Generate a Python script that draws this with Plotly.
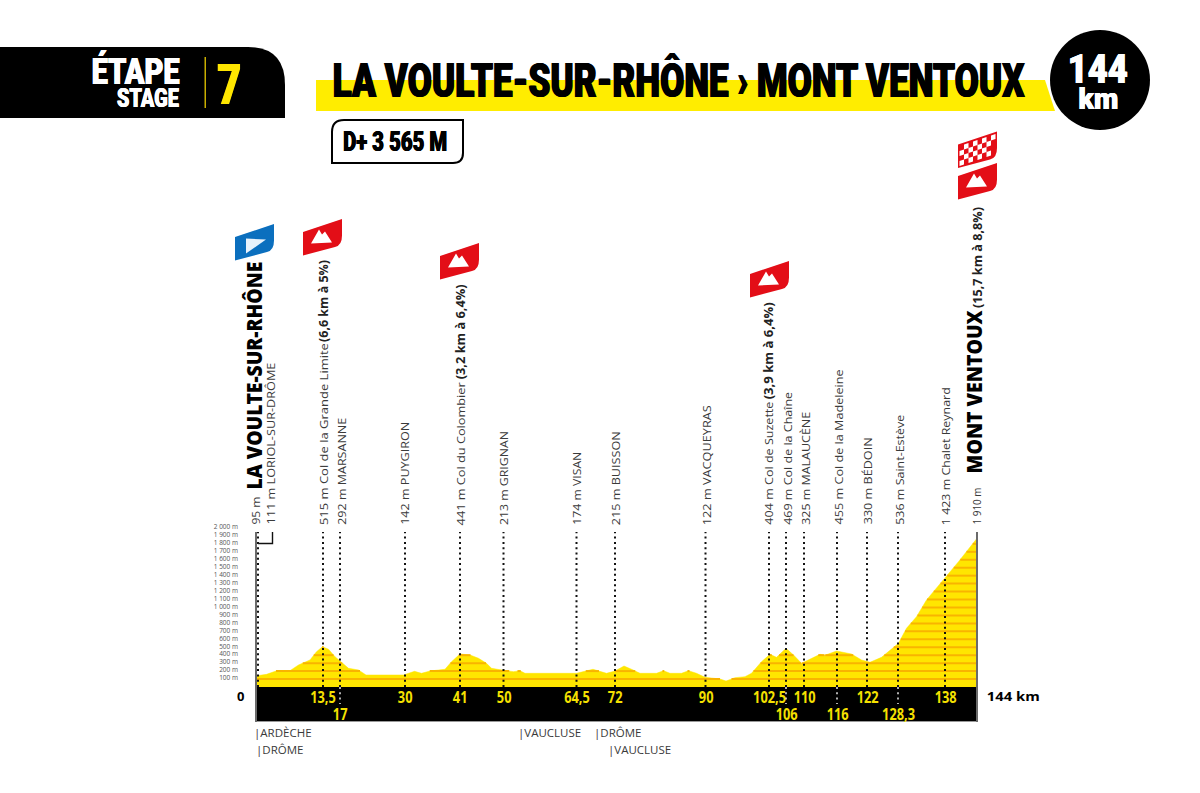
import json
import numpy as np
import plotly.graph_objects as go

# ---------- data ----------
profile_km = [0, 1.9, 3.8, 6.5, 8.3, 10.6, 11.9, 13.1, 14.3, 15.6, 16.6, 18.3, 20.3, 21.8, 29.3, 31.5, 32.9, 34.6,
              37.6, 38.9, 40.6, 42.6, 44.3, 45.9, 46.9, 48.6, 49.3, 51.3, 52.6, 53.6, 63.9, 67.2, 69.9, 71.6, 73.4,
              74.9, 76.6, 79.9, 81.3, 82.6, 84.9, 86.3, 87.9, 89.6, 92.6, 93.8, 95.6, 97.6, 98.9, 100.9, 102.6,
              103.9, 105.8, 107.3, 108.9, 112.6, 113.6, 115.9, 118.9, 120.9, 122.6, 124.9, 128.3, 129.9, 131.9,
              133.9, 137.6, 140.3, 144]
profile_m = [142, 159, 201, 201, 277, 340, 444, 507, 475, 381, 327, 235, 214, 151, 151, 197, 172, 201,
             223, 318, 415, 403, 361, 298, 235, 214, 210, 193, 205, 172, 172, 223, 172, 201, 264,
             223, 172, 172, 205, 172, 172, 205, 172, 122, 101, 75, 117, 130, 172, 318, 411,
             373, 486, 403, 298, 411, 399, 453, 415, 340, 311, 373, 550, 738, 884,
             1094, 1367, 1576, 1870]

elev_ticks = list(range(100, 2001, 100))
elev_tick_text = [f"{v} m" if v < 1000 else f"{v//1000} {v%1000:03d} m" for v in elev_ticks]

marker_km = [0, 13.2, 16.6, 29.6, 40.6, 49.3, 63.9, 71.6, 89.7, 102.4, 105.8, 109.4, 116, 122, 128.2, 137.6]
marker_tick = ["", "13,5", "17", "30", "41", "50", "64,5", "72", "90", "102,5", "106", "110", "116", "122", "128,3", "138"]
marker_row = [1, 1, 2, 1, 1, 1, 1, 1, 1, 1, 2, 1, 2, 1, 2, 1]

place_text = ["95 m", "LA VOULTE-SUR-RHÔNE", "111 m LORIOL-SUR-DRÔME",
              "515 m Col de la Grande Limite", "(6,6 km à 5%)", "292 m MARSANNE", "142 m PUYGIRON",
              "441 m Col du Colombier", "(3,2 km à 6,4%)", "213 m GRIGNAN", "174 m VISAN", "215 m BUISSON",
              "122 m VACQUEYRAS", "404 m Col de Suzette", "(3,9 km à 6,4%)", "469 m Col de la Chaîne",
              "325 m MALAUCÈNE", "455 m Col de la Madeleine", "330 m BÉDOIN", "536 m Saint-Estève",
              "1 423 m Chalet Reynard", "1 910 m", "MONT VENTOUX", "(15,7 km à 8,8%)"]

dept_text = ["|ARDÈCHE", "|DRÔME", "|VAUCLUSE", "|DRÔME", "|VAUCLUSE"]

# ---------- layout tables (page pixels) ----------
place_x = [255, 253.5, 270, 322.7, 322.7, 341, 404, 460, 460, 503, 576, 615, 705.5, 768, 768, 787, 805, 838, 867,
           898.5, 945, 976, 973.5, 977]
place_y0 = [525, 490, 525, 525, 342, 525, 525, 525, 380, 525, 525, 525, 525, 525, 400, 525, 525, 525, 525, 525, 525,
            525, 473, 308]
place_y1 = [497, 262, 363, 343, 260, 418, 422, 382, 285, 431, 452, 431, 405, 402, 303, 392, 412, 370, 438, 415, 387,
            488, 310, 207]
place_kind = ["n", "B", "n", "n", "b", "n", "n", "n", "b", "n", "n", "n", "n", "n", "b", "n", "n", "n", "n", "n", "n",
              "n", "B", "b"]
dept_x = [252, 254, 516, 592, 606]
dept_y = [732.5, 749.5, 732.5, 732.5, 749.5]

YELLOW = "#FFE600"
STRIPE = "#F9B400"
FONT = "Open Sans"
HEAVY = "Roboto"
GREY = "#3a3a3a"
Y_LABEL = "#F5E100"
RED = "#E30E17"
BLUE = "#0B6FBE"

fig = go.Figure()

fig.add_trace(go.Scatter(x=profile_km, y=profile_m, mode="lines", fill="tozeroy", fillcolor=YELLOW,
                         line=dict(color=YELLOW, width=0.5), hoverinfo="skip", showlegend=False))
fine_x = np.linspace(0, 144, 2881)
fine_y = np.interp(fine_x, profile_km, profile_m)
sx, sy = [], []
for lev in elev_ticks:
    inside = fine_y > lev
    i = 0
    while i < len(fine_x):
        if inside[i]:
            j = i
            while j + 1 < len(fine_x) and inside[j + 1]:
                j += 1
            sx += [fine_x[i], fine_x[j], None]
            sy += [lev, lev, None]
            i = j + 1
        else:
            i += 1
fig.add_trace(go.Scatter(x=sx, y=sy, mode="lines", line=dict(color=STRIPE, width=2),
                         hoverinfo="skip", showlegend=False))
for km in marker_km:
    fig.add_trace(go.Scatter(x=[km + 0.2 if km == 0 else km] * 2, y=[0, 1950], mode="lines",
                             line=dict(color="#111", width=2, dash="2px,3.3px"),
                             hoverinfo="skip", showlegend=False))
fig.add_trace(go.Scatter(x=[None], y=[None], xaxis="x2", yaxis="y2", showlegend=False, hoverinfo="skip"))

shapes, ann, squeeze = [], [], []


def px_shape(path, fill, line=None, lw=0):
    shapes.append(dict(type="path", path=path, xref="x2", yref="y2", fillcolor=fill,
                       line=dict(color=line or fill, width=lw)))


def add_text(x, y, text, size, color="#000", family=FONT, weight=400, angle=0, xref="x2", xanchor="center",
             length=None, factor=None, fat=0):
    font = dict(size=size, color=color, family=family, weight=weight)
    if fat:
        font["shadow"] = f"{fat}px 0 0 {color},-{fat}px 0 0 {color}"
    ann.append(dict(x=x, y=y, xref=xref, yref="y2", text=text, showarrow=False, font=font,
                    xanchor=xanchor, yanchor="middle", textangle=angle))
    squeeze.append(dict(l=length, f=factor))


shapes.append(dict(type="rect", xref="x", yref="y2", x0=0, x1=144, y0=687, y1=721, fillcolor="#000",
                   line=dict(width=0)))
shapes.append(dict(type="line", xref="x", yref="y2", x0=0, x1=144, y0=721.5, y1=721.5, line=dict(color="#999", width=1)))
shapes.append(dict(type="line", xref="x2", yref="y2", x0=256, x1=256, y0=532, y1=722, line=dict(color="#6a6a6a", width=2)))
shapes.append(dict(type="line", xref="x2", yref="y2", x0=977, x1=977, y0=532, y1=722, line=dict(color="#6a6a6a", width=2)))
shapes.append(dict(type="path", xref="x2", yref="y2", path="M272.5,532 L272.5,543.5 L258,543.5",
                   line=dict(color="#111", width=1.4)))

for km, tick, row in zip(marker_km, marker_tick, marker_row):
    if tick:
        add_text(km, 696.5 if row == 1 else 713.5, tick, 16, Y_LABEL, FONT, 700, xref="x", factor=0.8)
    if tick and row == 2:
        shapes.append(dict(type="line", xref="x", yref="y2", x0=km, x1=km, y0=687, y1=704,
                           line=dict(color="#ddd", width=1.6, dash="2px,3.3px")))

add_text(240, 696, "0", 13, "#000", FONT, 700)
add_text(1013.5, 696, "144 km", 13, "#000", FONT, 700, length=53)

for x, txt, y0, y1, kind in zip(place_x, place_text, place_y0, place_y1, place_kind):
    size, col, w = {"n": (11.5, GREY, 400), "b": (11.5, "#222", 700), "B": (21, "#000", 800)}[kind]
    add_text(x, (y0 + y1) / 2, txt, size, col, FONT, w, angle=-90, length=y0 - y1)

for x, y, txt in zip(dept_x, dept_y, dept_text):
    add_text(x, y, txt, 11.5, GREY, FONT, 400, xanchor="left")

# header block
px_shape("M0,47 L248,47 Q285,47 285,85 L285,118 L0,118 Z", "#000")
px_shape("M204.5,57 L206,57 L206,108 L204.5,108 Z", "#C9AE00")
add_text(135, 71, "ÉTAPE", 36, "#fff", HEAVY, 900, length=88, fat=0.6)
add_text(148, 98.5, "STAGE", 25, "#fff", HEAVY, 900, length=62, fat=0.4)
add_text(229, 85, "7", 56, "#FFE600", HEAVY, 900, length=24, fat=0.8)

# title ribbon, circle
px_shape("M316,80 L1045,80 L1055,111 L316,111 Z", "#FFED00")
add_text(679, 80, "LA VOULTE-SUR-RHÔNE › MONT VENTOUX", 49, "#000", HEAVY, 900, length=692, fat=0.9)
shapes.append(dict(type="circle", xref="x2", yref="y2", x0=1050, x1=1150, y0=30, y1=130, fillcolor="#000",
                   line=dict(width=0)))
add_text(1098, 69, "144", 40, "#fff", HEAVY, 900, length=60, fat=0.6)
add_text(1098, 99, "km", 29, "#fff", HEAVY, 900, length=40, fat=0.4)

# D+ box
px_shape("M332,163 L332,132 Q332,120 344,120 L463,120 L463,153 Q463,163 453,163 Z", "#fff", "#000", 2)
add_text(394.5, 142, "D+ 3 565 M", 27, "#000", HEAVY, 900, length=104, fat=0.5)


def flag(x, y, fill, kind):
    w = 39.0
    px_shape(f"M{x},{y} L{x},{y-23.5} L{x+w},{y-36.5} L{x+w},{y-20} Q{x+w},{y-10} {x+w-7},{y-8.5} Z", fill)
    if kind == "mountain":
        px_shape(f"M{x+8},{y-12} L{x+16},{y-26} L{x+19},{y-21} L{x+22},{y-24} L{x+29},{y-13} Z", "#fff")
    elif kind == "start":
        px_shape(f"M{x+11},{y-7} L{x+11},{y-22} L{x+31},{y-21} Z", "#e8f2fb")
    elif kind == "finish":
        cols, rows = 8, 4
        d = ""
        cw = (w - 3) / cols
        ch = 20.0 / rows
        slope = 13.0 / w
        for c in range(cols):
            for r in range(rows):
                if (c + r) % 2 == 0:
                    x0 = x + 1.5 + c * cw
                    x1 = x0 + cw
                    y0 = y - 1.5 - r * ch - (x0 - x) * slope
                    y1 = y - 1.5 - r * ch - (x1 - x) * slope
                    if c == cols - 1 and r < 2:
                        continue
                    d += f"M{x0:.1f},{y0:.1f} L{x1:.1f},{y1:.1f} L{x1:.1f},{y1-ch:.1f} L{x0:.1f},{y0-ch:.1f} Z "
        px_shape(d, "#fff")


flag(235, 260.5, BLUE, "start")
flag(303, 255.5, RED, "mountain")
flag(440, 279.5, RED, "mountain")
flag(750, 297.5, RED, "mountain")
flag(958, 199.5, RED, "mountain")
flag(958, 168, RED, "finish")

fig.update_layout(
    width=1200, height=793, autosize=False,
    margin=dict(l=0, r=0, t=0, b=0),
    paper_bgcolor="#fff", plot_bgcolor="rgba(0,0,0,0)",
    showlegend=False,
    shapes=shapes, annotations=ann,
    xaxis=dict(domain=[257 / 1200, 977 / 1200], range=[0, 144], visible=False, fixedrange=True, automargin=False),
    yaxis=dict(domain=[(793 - 687) / 793, (793 - 527) / 793], range=[0, 2012], fixedrange=True, automargin=False,
               tickmode="array", tickvals=elev_ticks, ticktext=elev_tick_text,
               tickfont=dict(size=6.5, color="#555", family="Open Sans"),
               showgrid=False, zeroline=False, showline=False, ticks="", ticklabelstandoff=18, ticklabelshift=-1),
    xaxis2=dict(domain=[0, 1], range=[0, 1200], visible=False, anchor="y2", fixedrange=True, automargin=False),
    yaxis2=dict(domain=[0, 1], range=[793, 0], visible=False, anchor="x2", fixedrange=True, automargin=False),
)

post = """
document.body.style.margin = '0';
document.documentElement.style.overflow = 'hidden';
var gd = document.getElementById('{plot_id}');
var squeeze = %s;
gd.querySelectorAll('.annotation').forEach(function (a) {
  var s = squeeze[+a.getAttribute('data-index')];
  var t = a.querySelector('text.annotation-text');
  if (!s || !t) return;
  var len = s.l || (s.f ? t.getComputedTextLength() * s.f : null);
  if (len) { t.setAttribute('textLength', len); t.setAttribute('lengthAdjust', 'spacingAndGlyphs'); }
});
""" % json.dumps(squeeze)

fig.write_html("out.html", post_script=post, config=dict(displayModeBar=False))
